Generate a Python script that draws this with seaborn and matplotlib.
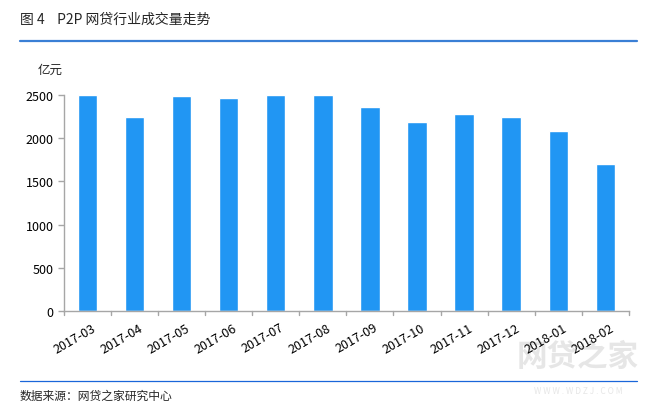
import matplotlib
matplotlib.use("Agg")
import matplotlib.pyplot as plt
import seaborn as sns
import pandas as pd
from matplotlib.lines import Line2D
from matplotlib.transforms import ScaledTranslation

months = ["2017-03", "2017-04", "2017-05", "2017-06", "2017-07", "2017-08",
          "2017-09", "2017-10", "2017-11", "2017-12", "2018-01", "2018-02"]
volume = [2500, 2245, 2488, 2465, 2500, 2495, 2361, 2187, 2280, 2245, 2083, 1701]

sns.set_style("white")
plt.rcParams['font.family'] = ['Noto Sans CJK SC', 'DejaVu Sans']

df = pd.DataFrame({"month": months, "volume": volume})

fig = plt.figure(figsize=(6.7, 4.1), dpi=100)
ax = fig.add_axes([0.0955, 0.239, 0.843, 0.527])
ax.patch.set_alpha(0)
sns.barplot(data=df, x="month", y="volume", color="#2196F3", saturation=1,
            width=0.41, ax=ax)

ax.set_ylim(0, 2500)
ax.set_xlim(-0.5, len(months) - 0.5)
ax.set_yticks([0, 500, 1000, 1500, 2000, 2500])
ax.set_xlabel("")
ax.set_ylabel("")
for s in ["top", "right"]:
    ax.spines[s].set_visible(False)
for s in ["left", "bottom"]:
    ax.spines[s].set_color("#a6a6a6")
    ax.spines[s].set_linewidth(1)

ax.set_xticks(range(len(months)))
ax.set_xticklabels(months, rotation=30, ha="right", rotation_mode="anchor",
                   fontsize=9, color="#000000")
ax.tick_params(axis="x", length=0, pad=7)
offset = ScaledTranslation(4 / 100, 0, fig.dpi_scale_trans)
for lab in ax.get_xticklabels():
    lab.set_transform(lab.get_transform() + offset)
ax.tick_params(axis="y", labelsize=9, colors="#000000", length=4,
               width=1, color="#a6a6a6", left=True, direction="out")
for lab in ax.get_yticklabels():
    lab.set_color("#000000")
# category boundary ticks
for i in range(len(months) + 1):
    ax.plot([i - 0.5, i - 0.5], [0, -0.018], transform=ax.get_xaxis_transform(),
            color="#a6a6a6", lw=1, clip_on=False)

fig.text(38 / 670, 1 - 70 / 410, "亿元", fontsize=9, ha="left", va="center")
fig.text(20 / 670, 1 - 20 / 410, "图 4    P2P 网贷行业成交量走势", fontsize=10,
         ha="left", va="center")
fig.add_artist(Line2D([20 / 670, 637 / 670], [1 - 42 / 410, 1 - 42 / 410],
                      color="#3a7fd5", lw=1.6))
fig.add_artist(Line2D([20 / 670, 637 / 670], [1 - 382 / 410, 1 - 382 / 410],
                      color="#1a66d9", lw=0.9))
fig.text(20 / 670, 1 - 396 / 410, "数据来源：网贷之家研究中心", fontsize=8.5,
         ha="left", va="center")
# watermark (behind everything)
fig.text(578 / 670, 1 - 357 / 410, "网贷之家", fontsize=22, ha="center",
         va="center", color="#e6e6e6", fontweight="bold", zorder=-5)
fig.text(578 / 670, 1 - 392 / 410, "W W W . W D Z J . C O M", fontsize=6,
         ha="center", va="center", color="#e6e6e6", zorder=-5)

fig.savefig("out.png", dpi=100)
